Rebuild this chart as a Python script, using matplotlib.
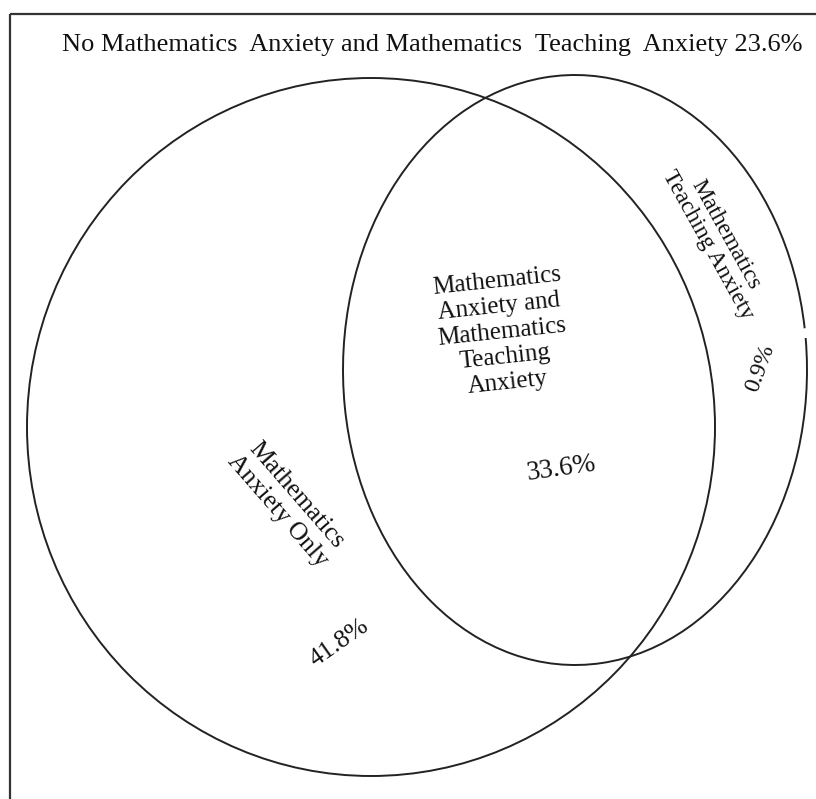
import matplotlib
matplotlib.use('Agg')
from matplotlib import pyplot as plt
from matplotlib.patches import Ellipse, Arc, Rectangle

# Venn regions: math anxiety only, both, teaching anxiety only, neither
region_labels = ["Mathematics\nAnxiety Only",
                 "Mathematics\nAnxiety and\nMathematics\nTeaching\nAnxiety",
                 "Mathematics\nTeaching Anxiety"]
region_pcts = [41.8, 33.6, 0.9]
none_label = "No Mathematics  Anxiety and Mathematics  Teaching  Anxiety"
none_pct = 23.6

W, H = 816, 799
SERIF = ['Liberation Serif', 'DejaVu Serif']


def main():
    fig = plt.figure(figsize=(W / 100, H / 100), dpi=100)
    ax = fig.add_axes([0, 0, 1, 1])
    ax.set_xlim(0, W)
    ax.set_ylim(H, 0)
    ax.axis('off')

    # outer frame (right/bottom cut off by the image edge)
    ax.add_patch(Rectangle((10, 14), 900, 900, fill=False,
                           edgecolor='#333333', linewidth=1.6))

    # big circle: mathematics anxiety
    ax.add_patch(Ellipse((371, 427), 688, 698, fill=False,
                         edgecolor='#222222', linewidth=1.4))
    # right ellipse: mathematics teaching anxiety (small gap on the right)
    ax.add_patch(Arc((575, 370), 464, 590, theta1=-7.9, theta2=349.7,
                     edgecolor='#222222', linewidth=1.4))

    ax.text(432, 45, f"{none_label} {none_pct}%", ha='center', va='center',
            fontsize=19, family=SERIF, color='#111111')

    # Mathematics anxiety only
    ax.text(287, 503, region_labels[0], ha='center', va='center',
            rotation=-49, fontsize=18.5, family=SERIF, linespacing=1.15,
            rotation_mode='anchor', color='#111111')
    ax.text(339, 643, f"{region_pcts[0]}%", ha='center', va='center',
            rotation=35, fontsize=18.5, family=SERIF, color='#111111')

    # both
    ax.text(502, 332, region_labels[1], ha='center', va='center',
            rotation=6, fontsize=18, family=SERIF, linespacing=1.2,
            rotation_mode='anchor', color='#111111')
    ax.text(561, 469, f"{region_pcts[1]}%", ha='center', va='center',
            rotation=8, fontsize=19.5, family=SERIF, color='#111111')

    # teaching anxiety only
    ax.text(717, 240, region_labels[2], ha='center', va='center',
            rotation=-61, fontsize=17, family=SERIF, linespacing=1.0,
            rotation_mode='anchor', color='#111111')
    ax.text(760, 368, f"{region_pcts[2]}%", ha='center', va='center',
            rotation=70, fontsize=17, family=SERIF, color='#111111')

    fig.savefig("out.png", dpi=100)


if __name__ == '__main__':
    main()
